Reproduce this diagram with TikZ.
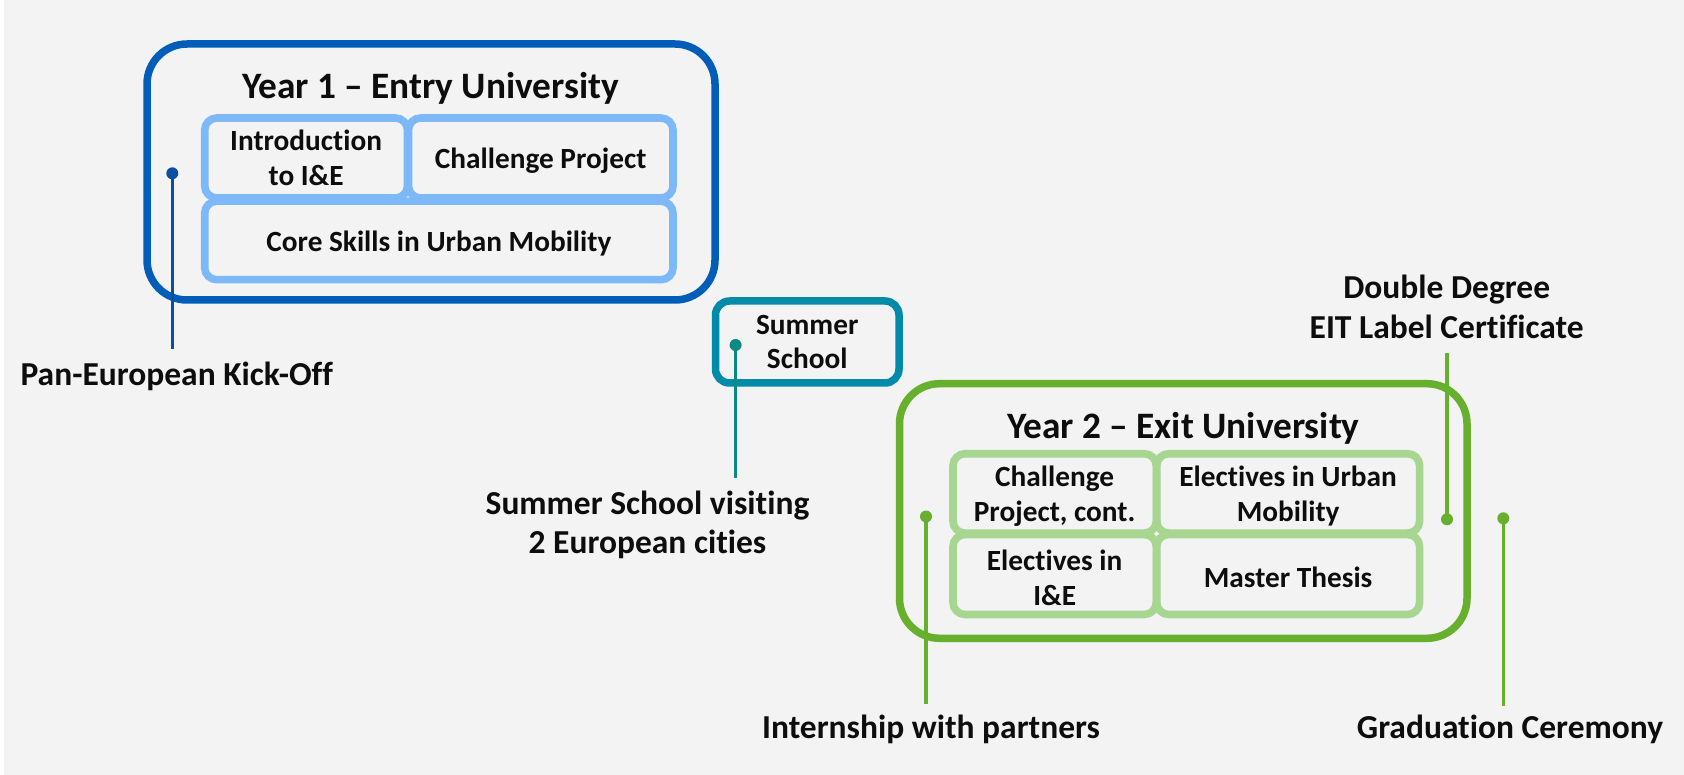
\documentclass[tikz,border=0pt]{standalone}
\usepackage{fontspec}
\setmainfont{Carlito}[Ligatures=NoCommon]
\definecolor{bg}{HTML}{F3F3F3}
\definecolor{bluedark}{HTML}{005EB8}
\definecolor{bluelight}{HTML}{7DB8F8}
\definecolor{bluedot}{HTML}{0B4EA2}
\definecolor{tealbox}{HTML}{008BA8}
\definecolor{tealdot}{HTML}{0B8A84}
\definecolor{greendark}{HTML}{66B02E}
\definecolor{greenlight}{HTML}{A6D690}
\definecolor{txt}{HTML}{0D0D0D}
\newcommand{\lowstrut}{\rule{0pt}{26.5pt}}
\tikzset{
  anybox/.style={draw, rectangle, inner sep=0pt, outer sep=0pt, align=center, text=txt,
    font=\bfseries\fontsize{29.3}{34.8}\selectfont},
  bigblue/.style={anybox, draw=bluedark, line width=7.5pt, rounded corners=40pt},
  smallblue/.style={anybox, draw=bluelight, line width=7.6pt, rounded corners=12pt},
  bigteal/.style={anybox, draw=tealbox, line width=7.5pt, rounded corners=14pt},
  biggreen/.style={anybox, draw=greendark, line width=7.5pt, rounded corners=40pt},
  smallgreen/.style={anybox, draw=greenlight, line width=7.6pt, rounded corners=12pt},
  yeartitle/.style={anchor=base, inner sep=0pt, text=txt, font=\bfseries\fontsize{37.3}{43}\selectfont},
  lab/.style={inner sep=0pt, align=center, text=txt, font=\bfseries\fontsize{33.5}{39.5}\selectfont},
  dotmark/.style={circle, fill=#1, minimum size=12pt, inner sep=0pt, outer sep=0pt},
  stem/.style={draw=#1, line width=3.2pt}
}
\begin{document}
\begin{tikzpicture}[x=1pt,y=-1pt]
\useasboundingbox (0,0) rectangle (1684,775);
\fill[white] (0,0) rectangle (1684,775);
\fill[bg] (4,0) rectangle (1684,775);

% Year 1
\node[bigblue, minimum width=568, minimum height=256] (y1) at (431,172) {};
\node[yeartitle] (y1t) at (430.5,98.3) {Year 1 -- Entry University};
\node[smallblue, minimum width=202.8, minimum height=79.9] (intro) at (306.1,158) {Introduction\\to I\&E};
\node[smallblue, minimum width=264.5, minimum height=79.9] (chal) at (540.75,158) {\lowstrut Challenge Project};
\node[smallblue, minimum width=468.3, minimum height=78.5] (core) at (438.85,240.45) {\lowstrut Core Skills in Urban Mobility};

% Summer school
\node[bigteal, minimum width=183.5, minimum height=82] (ss) at (807.25,342) {Summer\\School};

% Year 2
\node[biggreen, minimum width=567.5, minimum height=254.6] (y2) at (1183.25,511) {};
\node[yeartitle] (y2t) at (1183.3,438.3) {Year 2 -- Exit University};
\node[smallgreen, minimum width=203.3, minimum height=79.4] (cpc) at (1054.65,493.4) {\lowstrut Challenge\\Project, cont.};
\node[smallgreen, minimum width=262.9, minimum height=79.4] (eum) at (1288.15,493.4) {\lowstrut Electives in Urban\\Mobility};
\node[smallgreen, minimum width=203.3, minimum height=80] (eie) at (1054.65,574.5) {\lowstrut Electives in\\I\&E};
\node[smallgreen, minimum width=262.9, minimum height=80] (mt) at (1288.15,574.5) {\lowstrut Master Thesis};

% Milestones
\node[dotmark=bluedot] (kd) at (172.3,173.3) {};
\coordinate (ke) at (172.3,349.3);
\node[lab, anchor=base] (kl) at (176.7,385) {Pan-European Kick-Off};
\draw[stem=bluedot] (kd.center) -- (ke);

\node[dotmark=tealdot] (sd) at (735.6,345) {};
\coordinate (se) at (735.6,478);
\node[lab] (sl) at (647.5,525) {Summer School visiting\\2 European cities};
\draw[stem=tealdot] (sd.center) -- (se);

\node[dotmark=greendark] (id) at (926,516.5) {};
\coordinate (ie) at (926,704);
\node[lab, anchor=base] (il) at (931,738.3) {Internship with partners};
\draw[stem=greendark] (id.center) -- (ie);

\node[dotmark=greendark] (dd) at (1447,519.3) {};
\coordinate (de) at (1447,353.3);
\node[lab] (dl) at (1446.7,307) {Double Degree\\EIT Label Certificate};
\draw[stem=greendark] (dd.center) -- (de);

\node[dotmark=greendark] (gd) at (1503.3,518.3) {};
\coordinate (ge) at (1503.3,706);
\node[lab, anchor=base] (gl) at (1510,738.3) {Graduation Ceremony};
\draw[stem=greendark] (gd.center) -- (ge);
\end{tikzpicture}
\end{document}
